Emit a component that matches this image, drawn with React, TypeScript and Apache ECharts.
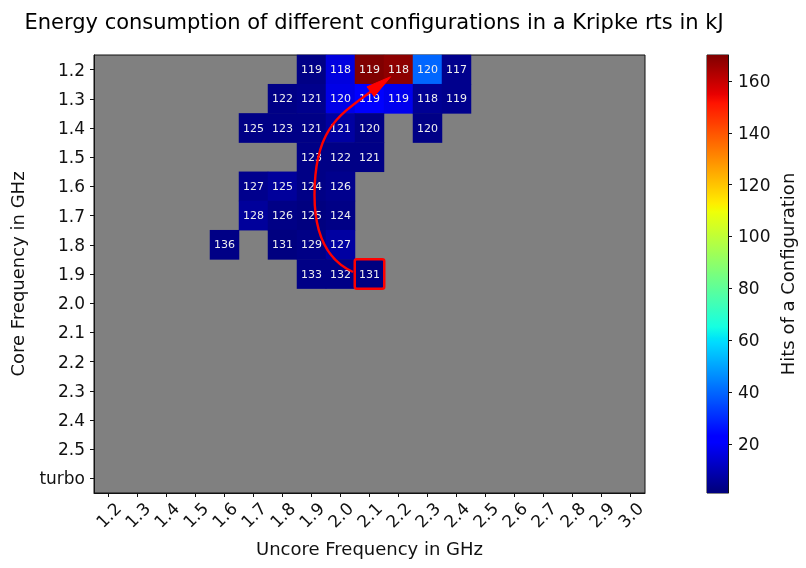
import React, { useEffect, useRef } from "react";
import * as echarts from "echarts";

const uncoreFreqs = ["1.2","1.3","1.4","1.5","1.6","1.7","1.8","1.9","2.0","2.1","2.2","2.3","2.4","2.5","2.6","2.7","2.8","2.9","3.0"];
const coreFreqs = ["1.2","1.3","1.4","1.5","1.6","1.7","1.8","1.9","2.0","2.1","2.2","2.3","2.4","2.5","turbo"];

// measured configurations
const cellUncore = ["1.9","2.0","2.1","2.2","2.3","2.4",
  "1.8","1.9","2.0","2.1","2.2","2.3","2.4",
  "1.7","1.8","1.9","2.0","2.1","2.3",
  "1.9","2.0","2.1",
  "1.7","1.8","1.9","2.0",
  "1.7","1.8","1.9","2.0",
  "1.6","1.8","1.9","2.0",
  "1.9","2.0","2.1"];
const cellCore = ["1.2","1.2","1.2","1.2","1.2","1.2",
  "1.3","1.3","1.3","1.3","1.3","1.3","1.3",
  "1.4","1.4","1.4","1.4","1.4","1.4",
  "1.5","1.5","1.5",
  "1.6","1.6","1.6","1.6",
  "1.7","1.7","1.7","1.7",
  "1.8","1.8","1.8","1.8",
  "1.9","1.9","1.9"];
const energyKJ = [119,118,119,118,120,117,
  122,121,120,119,119,118,119,
  125,123,121,121,120,120,
  123,122,121,
  127,125,124,126,
  128,126,125,124,
  136,131,129,127,
  133,132,131];
const hits = [2,15,170,168,39,3,
  2,3,16,20,17,4,3,
  2,2,2,6,2,2,
  2,2,2,
  3,5,2,3,
  5,2,1,2,
  2,1,2,6,
  2,2,1];

const colorbarTicks = [20, 40, 60, 80, 100, 120, 140, 160];
const hitsMin = 1;
const hitsMax = 170;
const highlighted = { uncore: "2.1", core: "1.9" };

function jet(t: number): string {
  const clamp = (v: number) => Math.max(0, Math.min(1, v));
  let r = 0, g = 0, b = 0;
  if (t < 0.35) r = 0; else if (t < 0.66) r = (t - 0.35) / 0.31; else if (t < 0.89) r = 1; else r = 1 - 0.5 * (t - 0.89) / 0.11;
  if (t < 0.125) g = 0; else if (t < 0.375) g = (t - 0.125) / 0.25; else if (t < 0.64) g = 1; else if (t < 0.91) g = 1 - (t - 0.64) / 0.27; else g = 0;
  if (t < 0.11) b = 0.5 + 0.5 * t / 0.11; else if (t < 0.34) b = 1; else if (t < 0.65) b = 1 - (t - 0.34) / 0.31; else b = 0;
  const h = (v: number) => Math.round(clamp(v) * 255).toString(16).padStart(2, "0");
  return "#" + h(r) + h(g) + h(b);
}

const N = 200;
const jetColors: string[] = [];
for (let i = 0; i <= N; i++) jetColors.push(jet(i / N));

export default function App() {
  const ref = useRef<HTMLDivElement>(null);
  useEffect(() => {
    document.body.style.margin = "0";
    const chart = echarts.init(ref.current!, undefined, { renderer: "svg" });
    const gridL = 90, gridT = 55, gridW = 555, gridH = 438;
    const data = cellUncore.map((u, i) => {
      const item: any = { value: [u, cellCore[i], energyKJ[i], hits[i]] };
      if (u === highlighted.uncore && cellCore[i] === highlighted.core) {
        item.itemStyle = { borderColor: "#ff0000", borderWidth: 2.5, borderRadius: 2 };
      }
      return item;
    });
    const stops = jetColors.map((c, i) => ({
      offset: Math.min(1, (hitsMin + (i / N) * (hitsMax - hitsMin)) / hitsMax),
      color: c,
    }));
    stops.unshift({ offset: 0, color: jetColors[0] });
    const font = "DejaVu Sans";
    const dark = "#111";
    chart.setOption({
      animation: false,
      textStyle: { fontFamily: font },
      title: {
        text: "Energy consumption of different configurations in a Kripke rts in kJ",
        left: 369,
        textAlign: "center",
        top: 6,
        textStyle: { fontSize: 21, fontWeight: "normal", color: "#000", fontFamily: font },
      },
      grid: [
        { left: gridL, top: gridT, width: gridW, height: gridH, show: true, backgroundColor: "#808080", borderColor: dark, borderWidth: 1 },
        { left: 707, top: gridT, width: 21, height: gridH, show: true, backgroundColor: "transparent", borderColor: dark, borderWidth: 1 },
      ],
      xAxis: [
        {
          type: "category", gridIndex: 0, data: uncoreFreqs,
          name: "Uncore Frequency in GHz", nameLocation: "middle", nameGap: 46,
          nameTextStyle: { fontSize: 18, color: dark, fontFamily: font },
          axisLine: { show: true, lineStyle: { color: dark } },
          axisTick: { show: true, alignWithLabel: true, length: 4, lineStyle: { color: dark } },
          axisLabel: { rotate: 45, fontSize: 17, color: dark, margin: 22, align: "center", verticalAlign: "middle", interval: 0 },
          splitLine: { show: false },
        },
        { type: "category", gridIndex: 1, data: ["cb"], show: false },
      ],
      yAxis: [
        {
          type: "category", gridIndex: 0, data: coreFreqs, inverse: true,
          name: "Core Frequency in GHz", nameLocation: "middle", nameGap: 68, nameRotate: 90,
          nameTextStyle: { fontSize: 18, color: dark, fontFamily: font },
          axisLine: { show: true, lineStyle: { color: dark } },
          axisTick: { show: true, alignWithLabel: true, length: 4, lineStyle: { color: dark } },
          axisLabel: { fontSize: 17, color: dark, margin: 9, interval: 0 },
          splitLine: { show: false },
        },
        {
          type: "value", gridIndex: 1, min: hitsMin, max: hitsMax, position: "right",
          name: "Hits of a Configuration", nameLocation: "middle", nameGap: 50, nameRotate: 90,
          nameTextStyle: { fontSize: 18, color: dark, fontFamily: font },
          axisLine: { show: true, lineStyle: { color: dark } },
          axisTick: { show: true, length: 4, lineStyle: { color: dark }, customValues: colorbarTicks },
          axisLabel: { fontSize: 17, color: dark, margin: 10, customValues: colorbarTicks },
          splitLine: { show: false },
        },
      ],
      visualMap: {
        show: false, type: "continuous", min: hitsMin, max: hitsMax, dimension: 3, seriesIndex: 0,
        inRange: { color: jetColors },
      },
      series: [
        {
          type: "heatmap", xAxisIndex: 0, yAxisIndex: 0, data,
          label: {
            show: true, fontSize: 11, color: "#eeeeee", fontFamily: font,
            formatter: (p: any) => String(p.value[2]),
          },
          itemStyle: { borderWidth: 0 },
          emphasis: { disabled: true },
          z: 2,
        },
        {
          type: "bar", xAxisIndex: 1, yAxisIndex: 1, data: [hitsMax], barWidth: "100%", clip: true,
          itemStyle: { color: new echarts.graphic.LinearGradient(0, 1, 0, 0, stops) },
          silent: true,
        },
      ],
      graphic: [
        {
          type: "bezierCurve", z: 100, silent: true,
          shape: { x1: 353, y1: 272, cpx1: 321.2, cpy1: 257.6, cpx2: 314.5, cpy2: 225, x2: 314.5, y2: 195 },
          style: { stroke: "#ff0000", lineWidth: 2.4, fill: null },
        },
        {
          type: "bezierCurve", z: 100, silent: true,
          shape: { x1: 314.5, y1: 195, cpx1: 314.5, cpy1: 130, cpx2: 337.8, cpy2: 115.8, x2: 371, y2: 91.5 },
          style: { stroke: "#ff0000", lineWidth: 2.4, fill: null },
        },
        {
          type: "polygon", z: 101, silent: true,
          shape: { points: [[390.7, 76.7], [374.2, 96.4], [367.0, 86.8]] },
          style: { fill: "#ff0000", stroke: "#ff0000", lineWidth: 1 },
        },
      ],
    });
    return () => chart.dispose();
  }, []);
  return <div ref={ref} style={{ position: "fixed", left: 0, top: 0, width: 806, height: 568 }} />;
}
